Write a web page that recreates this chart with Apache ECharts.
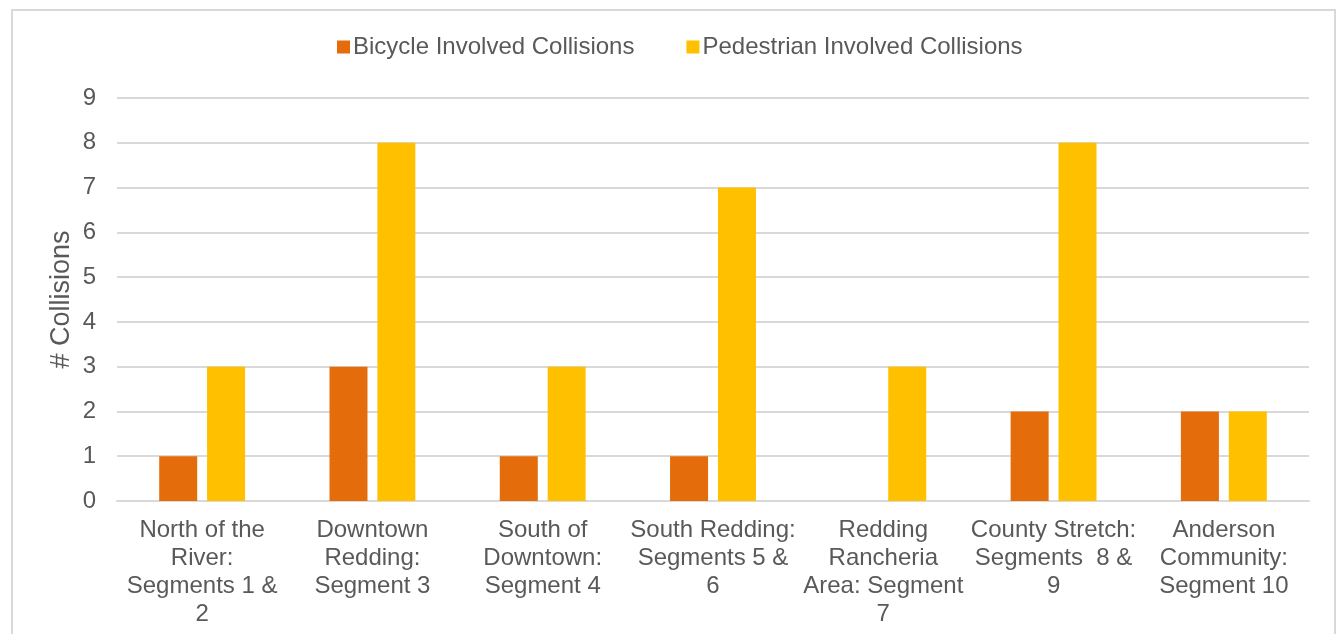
<!DOCTYPE html>
<html>
<head>
<meta charset="utf-8">
<script src="https://cdn.jsdelivr.net/npm/echarts@6/dist/echarts.min.js"></script>
<style>
  html, body { margin: 0; padding: 0; background: #fff; }
  #frame { position: absolute; left: 11px; top: 9px; width: 1325px; height: 640px; border: 2px solid #d9d9d9; box-sizing: border-box; }
  #chart { position: absolute; left: 0; top: 0; width: 1342px; height: 634px; }
</style>
</head>
<body>
<div id="frame"></div>
<div id="chart"></div>
<script>
// Segment names, wrapped the way they are printed under the axis
const categories = [
  'North of the\nRiver:\nSegments 1 &\n2',
  'Downtown\nRedding:\nSegment 3',
  'South of\nDowntown:\nSegment 4',
  'South Redding:\nSegments 5 &\n6',
  'Redding\nRancheria\nArea: Segment\n7',
  'County Stretch:\nSegments  8 &\n9',
  'Anderson\nCommunity:\nSegment 10'
];
const bicycle = [1, 3, 1, 1, 0, 2, 2];
const pedestrian = [3, 8, 3, 7, 3, 8, 2];
const yTicks = { min: 0, max: 9, interval: 1 };

const textColor = '#595959';
const font = 'Liberation Sans, Arial, sans-serif';

const chart = echarts.init(document.getElementById('chart'), null, { renderer: 'canvas' });
chart.setOption({
  animation: false,
  textStyle: { fontFamily: font, color: textColor },
  legend: {
    top: 35,
    left: 337,
    padding: 0,
    itemWidth: 13,
    itemHeight: 13,
    itemGap: 52,
    icon: 'rect',
    textStyle: { fontSize: 24, color: textColor, fontFamily: font, padding: [0, 0, 0, -2] },
    data: ['Bicycle Involved Collisions', 'Pedestrian Involved Collisions']
  },
  grid: { left: 117, right: 33, top: 98, bottom: 133 },
  xAxis: {
    type: 'category',
    data: categories,
    axisLine: { lineStyle: { color: '#d9d9d9', width: 2 } },
    axisTick: { show: false },
    axisLabel: { fontSize: 24, lineHeight: 28, color: textColor, fontFamily: font, margin: 15, interval: 0 }
  },
  yAxis: {
    type: 'value',
    min: yTicks.min,
    max: yTicks.max,
    interval: yTicks.interval,
    name: '# Collisions',
    nameLocation: 'middle',
    nameGap: 42,
    nameMoveOverlap: false,
    nameRotate: 90,
    nameTextStyle: { fontSize: 27, color: textColor, fontFamily: font },
    axisLine: { show: false },
    axisTick: { show: false },
    axisLabel: { fontSize: 24, color: textColor, fontFamily: font, margin: 21 },
    splitLine: { lineStyle: { color: '#d9d9d9', width: 2 } }
  },
  series: [
    {
      name: 'Bicycle Involved Collisions',
      type: 'bar',
      data: bicycle,
      barWidth: 38,
      barGap: '26%',
      itemStyle: { color: '#E46C0A' }
    },
    {
      name: 'Pedestrian Involved Collisions',
      type: 'bar',
      data: pedestrian,
      barWidth: 38,
      barGap: '26%',
      itemStyle: { color: '#FFC000' }
    }
  ]
});
</script>
</body>
</html>
